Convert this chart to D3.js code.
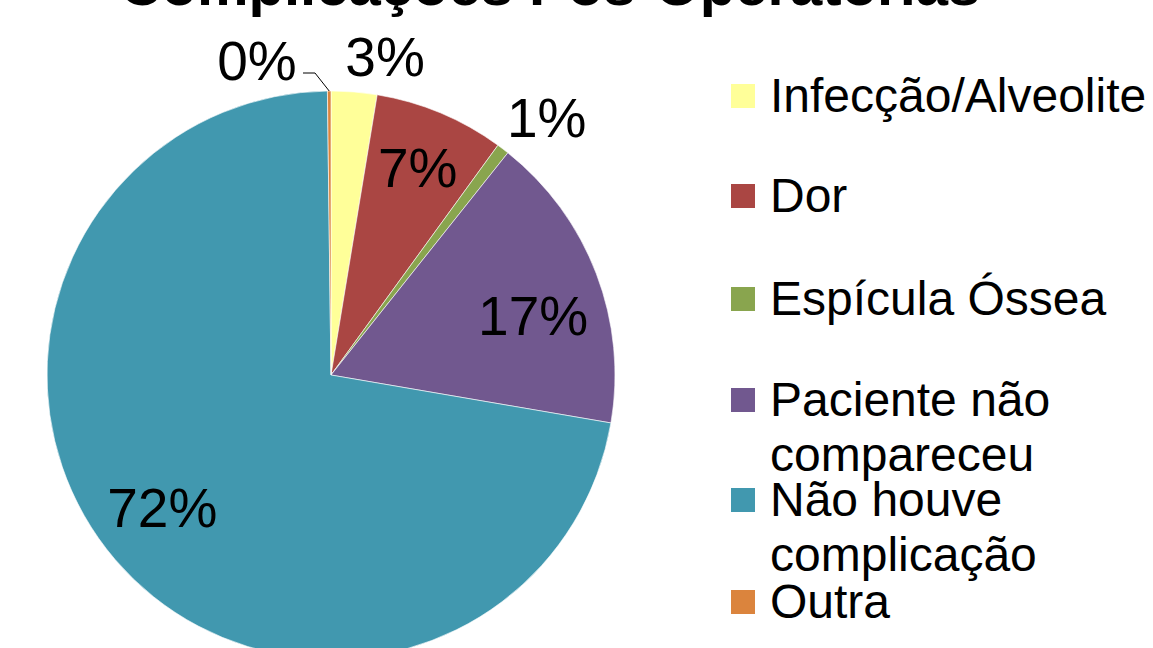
<!DOCTYPE html>
<html>
<head>
<meta charset="utf-8">
<script src="https://cdn.jsdelivr.net/npm/d3@7"></script>
<style>
  body { margin: 0; background: #fff; }
  svg { display: block; font-family: "Liberation Sans", Arial, sans-serif; }
</style>
</head>
<body>
<svg></svg>
<script>
var width = 1153;
var height = 648;

// data (percent of patients)
var categories = ['Infecção/Alveolite', 'Dor', 'Espícula Óssea', 'Paciente não compareceu', 'Não houve complicação', 'Outra'];
var legendLines = [['Infecção/Alveolite'], ['Dor'], ['Espícula Óssea'], ['Paciente não', 'compareceu'], ['Não houve', 'complicação'], ['Outra']];
var values = [2.6, 7.4, 0.7, 17.0, 72.1, 0.2];
var colors = ['#FFFF99', '#AA4643', '#89A54E', '#71588F', '#4198AF', '#DB843D'];
var title = 'Complicações Pós-Operatórias';

var svg = d3.select('svg')
            .attr('width', width)
            .attr('height', height);

var cx = 331, cy = 375, r = 284;

var pie = d3.pie().sort(null).value(d => d);
var arc = d3.arc().innerRadius(0).outerRadius(r);
var arcs = pie(values);
var total = d3.sum(values);
var pct = d => Math.round(d / total * 100) + '%';

svg.append('text')
   .attr('x', 550)
   .attr('y', 5)
   .attr('text-anchor', 'middle')
   .attr('font-weight', 'bold')
   .attr('font-size', 58)
   .text(title);

var g = svg.append('g').attr('transform', 'translate(' + cx + ',' + cy + ')');

g.selectAll('path')
 .data(arcs)
 .enter()
 .append('path')
 .attr('d', arc)
 .attr('fill', (d, i) => colors[i])
 .attr('stroke', '#fff')
 .attr('stroke-width', 0.6);

// label radius and nudge per slice (layout only)
var labelR = [320, 225, 330, 211, 214, 0];
var nudge = [[28, 0], [0, 0], [16, 5], [5, 15], [-6, -7], [0, 0]];

g.selectAll('text.pct')
 .data(arcs)
 .enter()
 .append('text')
 .attr('class', 'pct')
 .attr('x', function(d, i) {
   if (i === 5) return -74;
   return d3.arc().innerRadius(labelR[i]).outerRadius(labelR[i]).centroid(d)[0] + nudge[i][0];
 })
 .attr('y', function(d, i) {
   if (i === 5) return -315;
   return d3.arc().innerRadius(labelR[i]).outerRadius(labelR[i]).centroid(d)[1] + nudge[i][1];
 })
 .attr('dy', '0.36em')
 .attr('text-anchor', 'middle')
 .attr('font-size', 55)
 .text(d => pct(d.value));

// leader line for the tiny "Outra" slice
var tip = d3.arc().innerRadius(r).outerRadius(r).centroid(arcs[5]);
g.append('path')
 .attr('d', d3.line()([[-28, -302], [-16, -302], [tip[0], tip[1]]]))
 .attr('fill', 'none')
 .attr('stroke', '#000')
 .attr('stroke-width', 1);

// legend
var rowY = [84, 184, 287, 388, 488, 590];
var legend = svg.append('g');
legendLines.forEach(function(lines, i) {
  legend.append('rect')
        .attr('x', 731)
        .attr('y', rowY[i])
        .attr('width', 24)
        .attr('height', 24)
        .attr('fill', colors[i]);
  lines.forEach(function(t, j) {
    legend.append('text')
          .attr('x', 770)
          .attr('y', rowY[i] + 28 + j * 55)
          .attr('font-size', 48)
          .text(t);
  });
});
</script>
</body>
</html>
